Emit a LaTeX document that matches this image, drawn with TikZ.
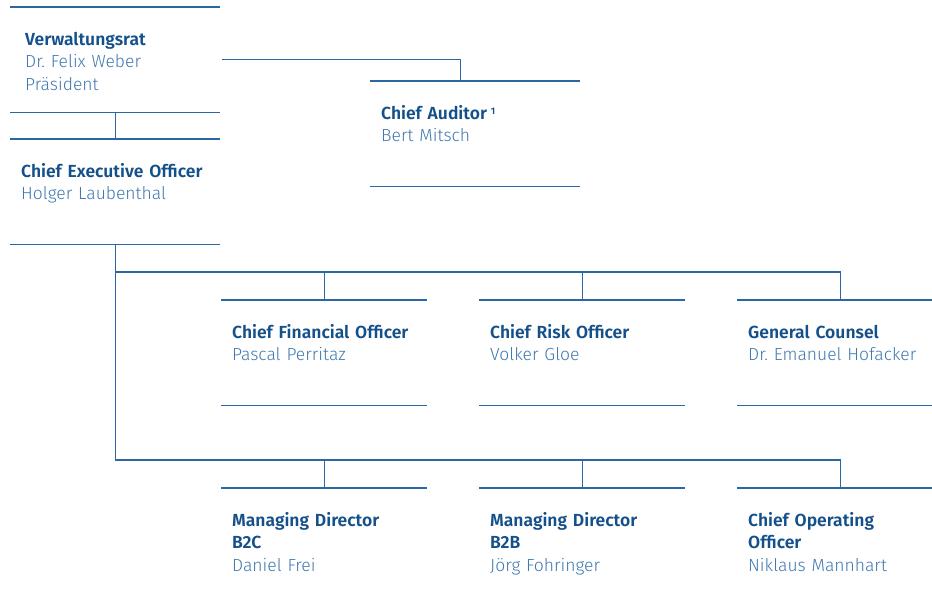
\documentclass[tikz,border=0pt]{standalone}
\usepackage{fontspec}
\setmainfont{Fira Sans Light}[BoldFont=Fira Sans SemiBold]
\usetikzlibrary{positioning}

\definecolor{titleblue}{HTML}{14508A}
\definecolor{nameblue}{HTML}{3F78AF}
\definecolor{lineblue}{HTML}{2B68A3}

\newcommand{\unittext}[3][11pt]{\vbox to 105pt{\parindent=0pt\leftskip=#1\rule{0pt}{38pt}{\color{titleblue}\bfseries #2}\par\color{nameblue}#3\vfil}}

\tikzset{
  unit/.style={anchor=north west, inner sep=0pt, text width=#1, minimum height=105pt,
    font=\fontsize{17.5}{22.5}\selectfont},
  rule/.style={draw=lineblue, line width=1.1pt},
  link/.style={draw=lineblue, line width=1.1pt}
}

\begin{document}
\begin{tikzpicture}[x=1pt,y=-1pt]
	\useasboundingbox (0,0) rectangle (932,591);

	\draw (10,7) node (vr) [unit=210pt] {\unittext[15pt]{Verwaltungsrat}{Dr.\ Felix Weber\\Präsident}};
	\draw (10,139) node (ceo) [unit=210pt] {\unittext{Chief Executive Officer}{Holger Laubenthal}};
	\draw (370,81) node (ca) [unit=210pt] {\unittext{Chief Auditor\hspace{4pt}{\fontsize{9.5}{9.5}\selectfont\raisebox{5pt}{1}}}{Bert Mitsch}};

	\draw (221,300) node (cfo) [unit=206pt] {\unittext{Chief Financial Officer}{Pascal Perritaz}};
	\draw (479,300) node (cro) [unit=206pt] {\unittext{Chief Risk Officer}{Volker Gloe}};
	\draw (737,300) node (gc) [unit=206pt] {\unittext{General Counsel}{Dr.\ Emanuel Hofacker}};

	\draw (221,488) node (mdc) [unit=206pt] {\unittext{Managing Director\\B2C}{Daniel Frei}};
	\draw (479,488) node (mdb) [unit=206pt] {\unittext{Managing Director\\B2B}{Jörg Fohringer}};
	\draw (737,488) node (coo) [unit=206pt] {\unittext{Chief Operating\\Officer}{Niklaus Mannhart}};

	\foreach \n in {vr,ceo,ca,cfo,cro,gc}
		\draw[rule] (\n.north west) -- (\n.north east) (\n.south west) -- (\n.south east);
	\foreach \n in {mdc,mdb,coo}
		\draw[rule] (\n.north west) -- (\n.north east);

	\draw[link] (vr.south) -- (ceo.north);
	\draw[link] ([xshift=2pt]vr.east) -| ([xshift=-15pt]ca.north);
	\draw[link] (gc.north) -- ++(0,28pt) -| (ceo.south);
	\draw[link] (coo.north) -- ++(0,28pt) -| (ceo.south);
	\foreach \n in {cfo,cro,mdc,mdb}
		\draw[link] (\n.north) -- ++(0,28pt);
\end{tikzpicture}
\end{document}
